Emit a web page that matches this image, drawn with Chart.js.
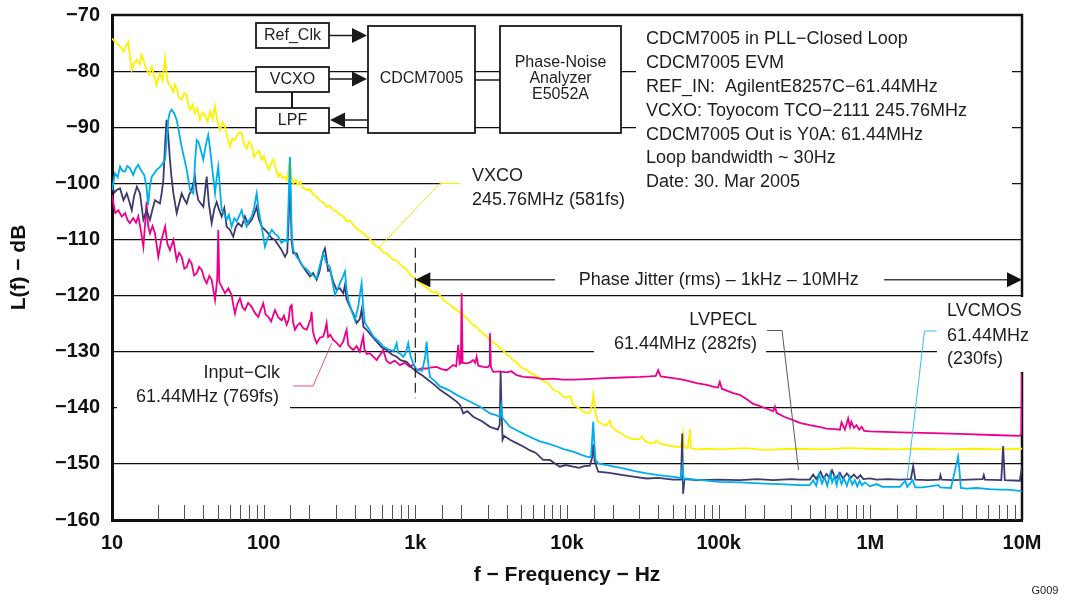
<!DOCTYPE html>
<html>
<head>
<meta charset="utf-8">
<script src="https://cdn.jsdelivr.net/npm/chart.js@4.4.1/dist/chart.umd.min.js"></script>
<style>
    html, body { margin: 0; padding: 0; background: #fff; }
    #wrap { width: 1069px; height: 603px; position: relative; }
</style>
</head>
<body>
<div id="wrap"><canvas id="noiseChart" width="1069" height="603"></canvas></div>
<script>
// x tick labels (decades only)
const decadeValues = [10, 100, 1000, 1e4, 1e5, 1e6, 1e7];
const decadeLabels = ['10', '100', '1k', '10k', '100k', '1M', '10M'];

// [frequency Hz, L(f) dB]
const vcxo = [
    [10,-74.2],[10.5,-74.8],[11,-75.3],[11.6,-75.9],[11.9,-76.5],[12.4,-75.4],[12.8,-74.8],[13.1,-77.2],[13.5,-79.8],[14,-78.6],
    [14.6,-78.0],[15.2,-78.8],[15.7,-77.1],[16.3,-78.5],[16.9,-79.8],[17.6,-80.6],[18.3,-79.2],[19,-81.0],[19.7,-82.5],[20.2,-81.2],
    [20.7,-80.4],[21.5,-81.7],[22,-79.5],[22.4,-77.7],[22.9,-80.6],[23.5,-82.2],[24.4,-82.7],[25.4,-83.7],[26,-82.4],[26.7,-83.1],
    [27.6,-84.7],[28.8,-85.1],[29.9,-83.9],[31.1,-84.3],[32,-86.2],[32.7,-86.9],[34,-86.0],[35.2,-87.5],[36.5,-86.6],[38,-88.7],
    [39.5,-87.4],[41,-87.8],[42.6,-89.0],[44.3,-87.2],[46,-88.6],[47.7,-86.3],[49.5,-88.8],[51.5,-90.5],[53.5,-89.1],[55.6,-89.9],
    [57.8,-91.9],[60,-93.5],[62.3,-92.0],[64.7,-92.3],[68,-91.0],[71.6,-91.1],[74,-92.9],[77.3,-93.8],[80,-92.6],[83.4,-93.2],
    [86.5,-95.3],[89.9,-94.6],[93,-94.2],[97,-95.8],[100.5,-95.2],[104.7,-96.6],[108,-97.6],[112,-96.4],[116,-95.8],[120,-97.4],
    [124.8,-98.8],[128,-98.2],[133,-99.0],[138,-98.8],[142,-99.4],[146,-97.6],[149,-95.3],[152,-98.5],[156.7,-100.0],[163,-99.4],
    [168,-100.3],[173.5,-99.7],[182,-100.8],[192,-101.2],[202,-101.0],[212,-102.0],[224,-102.4],[235,-103.1],[248,-103.4],[260,-104.2],
    [273,-104.0],[288,-104.8],[303,-105.0],[318,-105.6],[335,-105.9],[352,-106.8],[370,-106.6],[390,-107.4],[410,-108.1],[430,-108.4],
    [453,-108.9],[477,-109.5],[502,-109.9],[528,-110.7],[556,-111.3],[584,-111.5],[614,-112.3],[647,-112.5],[680,-113.1],[715,-113.6],
    [753,-113.7],[792,-114.5],[832,-114.9],[876,-115.4],[921,-116.2],[969,-116.8],[1020,-117.2],[1100,-118.0],[1190,-118.6],[1250,-119.1],
    [1312,-119.5],[1380,-119.3],[1453,-120.0],[1530,-120.8],[1608,-121.3],[1690,-121.6],[1778,-122.2],[1872,-122.5],[1970,-123.1],[2070,-123.5],
    [2180,-124.0],[2300,-124.7],[2410,-125.3],[2540,-125.6],[2670,-126.3],[2800,-126.8],[2950,-127.3],[3100,-127.9],[3260,-128.4],[3430,-128.7],
    [3610,-129.4],[3800,-129.8],[4000,-130.5],[4200,-130.9],[4430,-131.6],[4650,-131.9],[4900,-132.6],[5150,-133.0],[5400,-133.2],[5700,-133.8],
    [6000,-134.0],[6300,-134.4],[6630,-134.7],[6970,-135.2],[7340,-135.4],[7720,-136.0],[8110,-136.8],[8540,-137.0],[8980,-137.4],[9440,-138.0],
    [9900,-138.2],[10500,-137.9],[11000,-139.5],[11600,-139.8],[12200,-140.2],[12800,-140.7],[13500,-141.0],[14200,-140.8],[14600,-139.6],[14900,-137.7],
    [15200,-139.8],[15600,-141.6],[16100,-142.5],[17000,-142.8],[18000,-143.2],[18700,-142.7],[19200,-142.3],[19700,-143.4],[21000,-144.0],[22500,-144.5],
    [24700,-145.2],[27000,-145.6],[30000,-145.6],[31000,-145.1],[33000,-146.0],[35200,-146.3],[38000,-146.2],[39000,-145.8],[41000,-146.4],[45000,-146.6],
    [50200,-146.9],[56000,-147.0],[57500,-145.6],[58300,-144.6],[59200,-147.0],[62500,-147.2],[63800,-145.2],[64600,-143.8],[65500,-147.2],[72000,-147.4],
    [85000,-147.3],[100000,-147.4],[150000,-147.2],[200000,-147.5],[300000,-147.3],[500000,-147.4],[700000,-147.2],[1e6,-147.3],[1.5e6,-147.4],[2e6,-147.3],
    [3e6,-147.4],[5e6,-147.3],[7e6,-147.4],[1e7,-147.3]
];

const inputClk = [
    [10,-102.1],[10.5,-105.3],[11,-104.8],[11.6,-105.9],[12.2,-105.3],[12.7,-106.6],[13.1,-107.1],[13.8,-106.2],[14.4,-107.0],[14.9,-105.9],
    [15.5,-108.4],[16.1,-111.3],[16.6,-106.5],[16.9,-103.3],[17.3,-107.6],[17.8,-108.9],[18.5,-107.6],[19.2,-108.9],[20.2,-113.1],[21,-110.5],
    [22.4,-107.7],[23.2,-110.8],[24.1,-111.9],[25.4,-110.1],[26.7,-113.7],[27.7,-112.4],[28.8,-113.1],[30,-115.2],[31.1,-114.9],[32.3,-113.6],
    [33.5,-114.3],[34.8,-116.4],[36.2,-116.0],[37.5,-114.9],[39,-115.4],[40.6,-117.0],[42.1,-117.8],[43.8,-116.5],[45.4,-117.2],[46.6,-119.0],
    [47.8,-120.8],[49.4,-117.0],[50.2,-108.3],[51,-117.6],[52.9,-118.4],[55.6,-119.6],[58.5,-118.7],[61.5,-119.9],[63,-121.6],[64.7,-123.2],
    [67,-121.5],[69.8,-120.5],[72.5,-122.1],[75.3,-122.6],[79,-121.3],[83.4,-122.0],[87.5,-123.1],[92.1,-123.8],[95.8,-122.5],[99.4,-121.4],
    [103,-123.4],[107.2,-123.8],[112,-124.6],[118.7,-122.6],[124.8,-123.9],[131.4,-124.4],[136,-123.6],[141.8,-125.2],[146,-124.3],[149.5,-122.0],
    [153,-121.7],[156,-124.6],[160.8,-126.1],[167,-125.3],[173.5,-124.9],[182,-125.8],[192,-126.1],[199,-125.0],[204,-124.2],[207,-122.9],
    [211,-126.3],[217,-127.6],[223.6,-128.5],[235,-127.5],[247,-127.3],[254,-126.2],[260,-124.9],[266,-127.4],[275,-127.0],[287.6,-127.9],
    [302,-128.4],[318.4,-129.1],[334.7,-128.2],[344,-127.0],[352.4,-126.1],[361,-128.8],[375,-129.3],[389.7,-129.7],[410,-129.0],[430,-130.0],
    [445,-128.2],[453.5,-127.3],[462,-129.6],[480,-130.4],[502,-130.3],[528,-130.9],[556,-131.5],[585,-130.6],[614,-129.7],[645,-131.6],
    [680,-132.1],[730,-131.6],[792,-132.4],[850,-132.0],[921,-132.7],[970,-132.3],[1020,-133.3],[1100,-133.0],[1187,-133.0],[1280,-132.8],
    [1382,-132.7],[1490,-133.1],[1608,-133.3],[1700,-132.8],[1778,-132.4],[1860,-132.6],[1918,-128.8],[1960,-132.2],[1995,-132.0],[2020,-119.6],
    [2050,-132.0],[2179,-132.1],[2300,-131.9],[2408,-131.5],[2480,-132.0],[2536,-130.9],[2600,-132.5],[2803,-132.7],[3000,-132.8],[3060,-132.5],
    [3103,-126.7],[3150,-132.8],[3263,-133.6],[3600,-133.5],[3999,-133.7],[4300,-133.5],[4654,-134.2],[5145,-134.5],[5990,-134.6],[6967,-134.9],
    [8110,-134.8],[9441,-135.0],[10990,-135.0],[13460,-134.9],[15500,-134.8],[18240,-134.7],[23470,-134.6],[30250,-134.5],[35200,-134.4],[38500,-134.3],
    [39920,-133.3],[41500,-134.4],[50130,-134.7],[57800,-135.0],[64600,-135.3],[71500,-135.6],[83200,-135.9],[95000,-136.3],[99000,-136.4],[101800,-135.4],
    [105000,-136.6],[124600,-137.4],[138000,-137.7],[153000,-138.5],[168800,-139.3],[177800,-139.5],[200000,-140.0],[228800,-140.6],[235000,-139.8],[241000,-140.9],
    [270000,-141.6],[309800,-142.2],[343000,-142.7],[399000,-143.1],[460000,-143.4],[514000,-143.7],[580000,-143.8],[630000,-143.9],[646000,-142.6],[680000,-143.9],
    [714000,-141.9],[735000,-143.4],[750000,-142.5],[780000,-143.6],[811000,-143.1],[845000,-143.9],[876000,-143.4],[910000,-144.1],[992000,-144.2],[1.565e6,-144.4],
    [2.594e6,-144.5],[4.31e6,-144.7],[7.14e6,-144.9],[9.67e6,-145.0],[9.9e6,-144.6],[1e7,-133.9]
];

const lvpecl = [
    [10,-100.6],[10.4,-101.6],[10.74,-101.2],[11.3,-100.9],[11.9,-103.0],[12.5,-101.8],[13,-103.2],[13.5,-104.8],[14,-102.2],[14.6,-100.6],
    [15.3,-101.8],[16.1,-106.5],[16.9,-104.8],[17.8,-106.5],[18.5,-104.6],[19.2,-103.0],[20.7,-103.6],[21.3,-101.6],[21.8,-99.4],[22.4,-93.0],
    [22.9,-88.7],[23.5,-91.5],[24.1,-95.8],[24.7,-99.0],[25.4,-101.8],[26.7,-105.3],[28.8,-101.8],[29.9,-102.8],[31.1,-103.6],[32.3,-102.0],
    [33.5,-101.2],[35.2,-98.8],[36.2,-101.6],[37.1,-103.0],[40,-104.2],[41,-101.6],[42.1,-98.8],[43.5,-103.6],[45.4,-107.1],[47.2,-104.6],
    [49,-103.3],[50.8,-104.7],[52.9,-105.9],[55,-104.4],[57,-107.7],[60,-108.3],[63,-109.5],[65.5,-107.8],[68,-107.1],[71.6,-107.7],
    [75.3,-105.9],[79,-107.3],[83.4,-106.5],[86.5,-105.5],[89.9,-104.2],[93,-106.4],[97,-107.7],[102,-108.3],[107.2,-108.9],[112,-109.7],
    [118.7,-110.1],[124.8,-111.0],[131.4,-111.9],[138.2,-113.1],[143,-112.3],[146.5,-106.0],[149,-98.8],[151,-104.5],[153,-110.5],[156.7,-112.5],
    [165,-112.5],[173.5,-114.0],[182.4,-114.9],[192,-115.8],[202,-116.6],[212,-116.0],[223.6,-117.2],[233,-115.8],[240,-114.0],[247,-112.3],
    [253.5,-111.6],[260,-113.5],[266,-115.6],[273.5,-115.4],[288,-117.6],[302.8,-119.0],[318,-118.7],[334.7,-119.6],[343,-118.2],[352,-120.6],
    [370.7,-122.0],[390,-123.2],[410,-124.9],[430,-124.2],[442.6,-122.5],[455,-125.6],[477.5,-126.1],[515,-127.2],[556,-128.2],[600,-129.2],
    [647,-129.7],[700,-130.5],[753,-130.9],[800,-131.5],[876,-131.8],[950,-132.9],[1020,-133.6],[1120,-134.3],[1248,-135.3],[1350,-136.0],
    [1453,-136.8],[1650,-137.8],[1872,-138.9],[1970,-139.5],[2070,-141.0],[2200,-140.6],[2408,-141.6],[2750,-142.4],[3103,-143.4],[3500,-143.9],
    [3600,-143.0],[3650,-133.6],[3700,-140.0],[3760,-145.7],[3850,-145.0],[4204,-145.7],[4650,-146.3],[5145,-146.9],[5700,-147.6],[6200,-148.0],
    [6967,-149.3],[7716,-149.3],[8400,-150.0],[8978,-150.5],[9800,-150.2],[10990,-150.5],[12000,-150.7],[13000,-150.4],[14160,-150.3],[14600,-149.0],
    [14880,-146.5],[15200,-149.5],[16060,-151.4],[19000,-151.6],[23470,-152.0],[28000,-152.3],[33480,-152.6],[40000,-152.5],[50130,-152.8],[56500,-152.8],
    [57500,-144.6],[58300,-155.3],[59500,-152.7],[71500,-152.9],[100000,-152.8],[138000,-152.9],[180000,-152.7],[228800,-152.9],[300000,-152.7],[343000,-152.8],
    [399000,-152.8],[420000,-151.9],[440000,-152.7],[470000,-151.4],[490000,-152.6],[514000,-151.8],[540000,-152.5],[560000,-151.2],[590000,-152.6],[630000,-151.6],
    [660000,-152.6],[700000,-151.7],[740000,-152.5],[780000,-151.9],[820000,-152.6],[860000,-152.0],[900000,-152.7],[992000,-152.6],[1.1e6,-152.8],[1.3e6,-152.7],
    [1.565e6,-152.8],[1.85e6,-152.7],[1.915e6,-150.4],[1.98e6,-152.8],[2.4e6,-152.9],[2.85e6,-152.8],[2.9e6,-152.0],[2.95e6,-152.8],[3.5e6,-152.9],[4.5e6,-152.8],
    [5.5e6,-152.7],[5.6e6,-152.0],[5.7e6,-152.8],[7.3e6,-152.9],[7.51e6,-146.8],[7.7e6,-152.9],[9.67e6,-153.0],[1e7,-150.5]
];

const lvcmos = [
    [10,-101.2],[10.47,-98.2],[10.9,-98.9],[11.3,-97.0],[11.7,-97.8],[12.2,-97.9],[12.6,-96.9],[13.1,-97.3],[13.8,-98.5],[14.3,-97.4],
    [14.9,-96.7],[15.7,-97.9],[16.3,-98.5],[16.9,-100.6],[17.3,-103.9],[17.8,-100.4],[18.3,-98.8],[19.7,-97.6],[20.5,-97.2],[21.3,-96.7],
    [22.4,-95.8],[23,-92.0],[23.5,-88.7],[24.1,-87.3],[24.7,-86.9],[25.7,-87.5],[26.7,-88.7],[27.7,-91.0],[28.8,-93.5],[29.9,-95.5],
    [31.1,-97.6],[32.7,-101.2],[34.4,-101.8],[35.3,-96.0],[36.2,-92.3],[37.1,-92.6],[38,-93.5],[40,-95.8],[41.5,-93.2],[43.1,-91.4],
    [44.3,-93.8],[45.4,-96.4],[47.8,-101.8],[49,-99.0],[50.2,-97.0],[51.5,-101.0],[52.9,-104.8],[55,-105.4],[57,-106.5],[59,-105.6],
    [61.5,-107.7],[64,-106.2],[66.4,-106.8],[69,-105.8],[71.6,-104.8],[74,-106.4],[77.3,-107.7],[80,-106.6],[83.4,-105.9],[86.5,-104.4],
    [89.9,-101.8],[93,-105.0],[97,-107.7],[102,-111.3],[107,-109.6],[113,-108.3],[119,-109.0],[124.8,-109.5],[131,-110.6],[138.2,-110.1],
    [143,-110.4],[146,-103.0],[149,-95.3],[151,-102.0],[153,-109.0],[156.7,-111.9],[165,-113.1],[173.5,-113.9],[182.4,-114.9],[192,-115.3],
    [202,-116.0],[212,-116.4],[223.6,-116.9],[235,-114.6],[247,-112.5],[253.5,-113.4],[260,-114.3],[273.5,-114.9],[285,-117.8],[295,-119.9],
    [306,-119.0],[318.4,-117.8],[332,-116.7],[343.5,-115.7],[352,-118.9],[361.3,-120.8],[380,-122.7],[399.9,-124.4],[420,-122.0],[432,-119.6],
    [442.6,-117.8],[452,-121.5],[465.4,-124.9],[495,-126.0],[528,-127.3],[570,-128.1],[614,-129.1],[645,-129.4],[680,-129.7],[720,-129.9],
    [745,-128.9],[753,-128.5],[770,-130.2],[800,-130.4],[832,-130.9],[865,-130.2],[898,-128.5],[930,-130.8],[969,-132.1],[1000,-132.9],
    [1045,-133.3],[1110,-133.4],[1160,-131.0],[1187,-128.2],[1210,-131.5],[1248,-134.5],[1350,-135.3],[1453,-136.2],[1650,-136.8],[1872,-137.7],
    [2100,-138.4],[2408,-139.2],[2750,-140.0],[3103,-141.0],[3400,-141.3],[3612,-141.6],[3680,-139.7],[3750,-141.8],[4204,-143.4],[4650,-144.0],
    [5145,-144.6],[5800,-145.3],[6628,-146.0],[7500,-146.4],[8540,-146.9],[9600,-147.4],[10990,-147.8],[12200,-148.3],[13460,-148.7],[14400,-148.8],
    [14700,-145.0],[14880,-142.5],[15100,-145.6],[15400,-149.2],[16060,-149.9],[19000,-150.3],[23470,-150.8],[28000,-151.3],[33480,-151.7],[40000,-152.0],
    [50130,-152.3],[56500,-152.5],[57800,-150.5],[58800,-152.9],[59800,-152.6],[70000,-152.8],[83200,-153.0],[100000,-153.2],[138000,-153.3],[200000,-153.5],
    [250000,-153.6],[343000,-153.8],[399000,-153.8],[420000,-152.9],[440000,-153.9],[460000,-151.8],[480000,-153.5],[500000,-152.4],[520000,-153.9],[545000,-151.6],
    [560000,-153.3],[580000,-152.2],[600000,-153.8],[620000,-151.9],[645000,-153.6],[670000,-152.6],[700000,-153.9],[730000,-152.4],[760000,-153.7],[790000,-152.9],
    [820000,-154.0],[850000,-153.0],[880000,-153.8],[920000,-153.3],[992000,-154.0],[1.1e6,-153.6],[1.2e6,-154.1],[1.565e6,-154.1],[1.7e6,-153.0],[1.75e6,-154.1],
    [1.9e6,-152.9],[1.98e6,-154.2],[2.229e6,-154.2],[2.8e6,-153.8],[2.9e6,-154.2],[3.4e6,-154.3],[3.7e6,-150.0],[3.79e6,-148.7],[3.88e6,-151.5],[3.95e6,-154.3],
    [4.3e6,-154.4],[5e6,-154.3],[6.13e6,-154.5],[7.14e6,-154.6],[8e6,-154.6],[9.67e6,-154.8],[1e7,-154.9]
];

const FONT = '"Liberation Sans", Arial, Helvetica, sans-serif';
Chart.defaults.font.family = FONT;

const infoLines = [
    'CDCM7005 in PLL\u2212Closed Loop',
    'CDCM7005 EVM',
    'REF_IN:  AgilentE8257C\u221261.44MHz',
    'VCXO: Toyocom TCO\u22122111 245.76MHz',
    'CDCM7005 Out is Y0A: 61.44MHz',
    'Loop bandwidth ~ 30Hz',
    'Date: 30. Mar 2005'
];

// white backgrounds behind the labels (hide grid lines)
const labelMasks = [
    [636, 24, 376, 172],
    [441, 166, 195, 44],
    [594, 308, 172, 48],
    [937, 297, 100, 75],
    [117, 360, 173, 50]
];

function text(c, s, x, y, align, font) {
    c.font = font || '18px ' + FONT;
    c.textAlign = align || 'left';
    c.textBaseline = 'middle';
    c.fillStyle = '#1e1e1e';
    c.fillText(s, x, y);
}

function arrowHead(c, tipX, tipY, dir) {
    c.beginPath();
    c.moveTo(tipX, tipY);
    c.lineTo(tipX - dir * 15, tipY - 7.5);
    c.lineTo(tipX - dir * 15, tipY + 7.5);
    c.closePath();
    c.fill();
}

function line(c, pts, color, width) {
    c.strokeStyle = color;
    c.lineWidth = width;
    c.beginPath();
    c.moveTo(pts[0][0], pts[0][1]);
    for (let i = 1; i < pts.length; i++) c.lineTo(pts[i][0], pts[i][1]);
    c.stroke();
}

function drawDiagram(c) {
    const boxes = [[256, 23, 73, 25], [256, 67, 73, 25], [256, 108, 73, 25], [368, 26, 107, 107], [500, 26, 121, 107]];
    c.lineWidth = 1.8;
    c.strokeStyle = '#1a1a1a';
    boxes.forEach(b => {
        c.fillStyle = '#fff';
        c.fillRect(b[0], b[1], b[2], b[3]);
        c.strokeRect(b[0], b[1], b[2], b[3]);
    });
    line(c, [[329, 35.5], [354, 35.5]], '#1a1a1a', 1.5);
    line(c, [[329, 79], [354, 79]], '#1a1a1a', 1.5);
    line(c, [[368, 120], [343, 120]], '#1a1a1a', 1.5);
    line(c, [[292, 92], [292, 108]], '#1a1a1a', 2);
    line(c, [[475, 80], [500, 80]], '#1a1a1a', 1.5);
    c.fillStyle = '#1a1a1a';
    arrowHead(c, 367, 35.5, 1);
    arrowHead(c, 367, 79, 1);
    arrowHead(c, 330, 120, -1);
    const f16 = '16px ' + FONT;
    text(c, 'Ref_Clk', 292.5, 36, 'center', f16);
    text(c, 'VCXO', 292.5, 80, 'center', f16);
    text(c, 'LPF', 292.5, 121, 'center', f16);
    text(c, 'CDCM7005', 421.5, 79, 'center', f16);
    text(c, 'Phase-Noise', 560.5, 63, 'center', f16);
    text(c, 'Analyzer', 560.5, 79, 'center', f16);
    text(c, 'E5052A', 560.5, 95, 'center', f16);
}

const overlay = {
    id: 'overlay',
    beforeDatasetsDraw(chart) {
        const c = chart.ctx, a = chart.chartArea, xs = chart.scales.x;
        c.save();
        // top and right frame
        line(c, [[a.left, a.top], [a.right, a.top], [a.right, a.bottom]], '#111', 2.5);
        // minor ticks inside, from the log scale's own ticks
        c.strokeStyle = '#555';
        c.lineWidth = 1;
        xs.ticks.forEach(t => {
            const px = Math.round(xs.getPixelForValue(t.value)) + 0.5;
            if (px <= a.left + 3 || px >= a.right - 3) return;
            c.beginPath();
            c.moveTo(px, a.bottom);
            c.lineTo(px, a.bottom - 15);
            c.stroke();
        });
        c.fillStyle = '#fff';
        labelMasks.forEach(m => c.fillRect(m[0], m[1], m[2], m[3]));
        drawDiagram(c);
        c.restore();
    },
    afterDatasetsDraw(chart) {
        const c = chart.ctx, xs = chart.scales.x, ys = chart.scales.y;
        c.save();
        // info block
        infoLines.forEach((s, i) => text(c, s, 646, 39 + i * 23.9));

        // phase jitter integration range 1kHz - 10MHz
        const x1k = xs.getPixelForValue(1000);
        const x10M = xs.getPixelForValue(1e7);
        const yJit = ys.getPixelForValue(-117.2);
        c.setLineDash([10, 5]);
        line(c, [[x1k, ys.getPixelForValue(-111.5)], [x1k, ys.getPixelForValue(-138.3)]], '#222', 1.2);
        c.setLineDash([]);
        line(c, [[x1k + 14, yJit], [555, yJit]], '#444', 1.5);
        line(c, [[884, yJit], [x10M - 14, yJit]], '#444', 1.5);
        c.fillStyle = '#111';
        arrowHead(c, x1k, yJit, -1);
        arrowHead(c, x10M, yJit, 1);
        text(c, 'Phase Jitter (rms) \u2013 1kHz \u2013 10MHz', xs.getPixelForValue(1e5), yJit, 'center');

        // VCXO label
        line(c, [[378.3, 248.3], [440, 183.3], [460, 183.3]], '#F2E600', 1);
        text(c, 'VXCO', 472, 176);
        text(c, '245.76MHz (581fs)', 472, 200);

        // Input-Clk label
        line(c, [[293, 386], [313, 386], [331.7, 343.3]], '#EE4D8F', 1);
        text(c, 'Input\u2212Clk', 280, 373, 'right');
        text(c, '61.44MHz (769fs)', 279, 397, 'right');

        // LVPECL label
        line(c, [[767, 330.5], [782, 330.5], [798.5, 470]], '#555577', 1);
        text(c, 'LVPECL', 757, 320, 'right');
        text(c, '61.44MHz (282fs)', 757, 344, 'right');

        // LVCMOS label
        line(c, [[936.7, 331], [924.5, 331], [907.3, 478]], '#35BDEE', 1);
        text(c, 'LVCMOS', 947, 311);
        text(c, '61.44MHz', 947, 336);
        text(c, '(230fs)', 947, 359);

        text(c, 'G009', 1045, 591, 'center', '11px ' + FONT);
        c.restore();
    }
};

const toPoints = arr => arr.map(p => ({ x: p[0], y: p[1] }));

function decadeLabel(v) {
    const lg = Math.log10(v);
    if (Math.abs(lg - Math.round(lg)) > 1e-6) return '';
    const i = decadeValues.indexOf(Math.pow(10, Math.round(lg)));
    return i >= 0 ? decadeLabels[i] : '';
}

const ctx = document.getElementById('noiseChart').getContext('2d');
new Chart(ctx, {
    type: 'line',
    data: {
        datasets: [
            { label: 'LVCMOS', data: toPoints(lvcmos), borderColor: '#00AEEF' },
            { label: 'LVPECL', data: toPoints(lvpecl), borderColor: '#3C3A6E' },
            { label: 'Input-Clk', data: toPoints(inputClk), borderColor: '#EC008C' },
            { label: 'VCXO', data: toPoints(vcxo), borderColor: '#FFF200' }
        ]
    },
    options: {
        responsive: false,
        animation: false,
        layout: { padding: { top: 15, right: 47, left: 0, bottom: 0 } },
        elements: {
            point: { radius: 0 },
            line: { borderWidth: 1.8, tension: 0 }
        },
        plugins: {
            legend: { display: false },
            tooltip: { enabled: false }
        },
        scales: {
            x: {
                type: 'logarithmic',
                min: 10,
                max: 1e7,
                grid: { display: false, drawTicks: false },
                border: { display: true, color: '#111', width: 3 },
                ticks: {
                    autoSkip: false,
                    maxRotation: 0,
                    minRotation: 0,
                    padding: 11,
                    color: '#111',
                    font: { size: 20, weight: 'bold' },
                    callback: v => decadeLabel(v)
                },
                title: {
                    display: true,
                    text: 'f \u2212 Frequency \u2212 Hz',
                    color: '#111',
                    font: { size: 21, weight: 'bold' },
                    padding: { top: 0, bottom: 15 }
                },
                afterFit: s => { s.height = 83; }
            },
            y: {
                min: -160,
                max: -70,
                grid: { color: '#111', lineWidth: 1.2, drawTicks: false },
                border: { color: '#111', width: 3 },
                ticks: {
                    stepSize: 10,
                    padding: 12,
                    color: '#111',
                    font: { size: 20, weight: 'bold' },
                    callback: v => '\u2212' + Math.abs(v)
                },
                title: {
                    display: true,
                    text: 'L(f) \u2212 dB',
                    color: '#111',
                    font: { size: 21, weight: 'bold' },
                    padding: { top: 7, bottom: 0 }
                },
                afterFit: s => {
                    s.width = 112;
                    s.paddingTop = 0;
                    s.paddingBottom = 0;
                }
            }
        }
    },
    plugins: [overlay]
});
</script>
</body>
</html>
